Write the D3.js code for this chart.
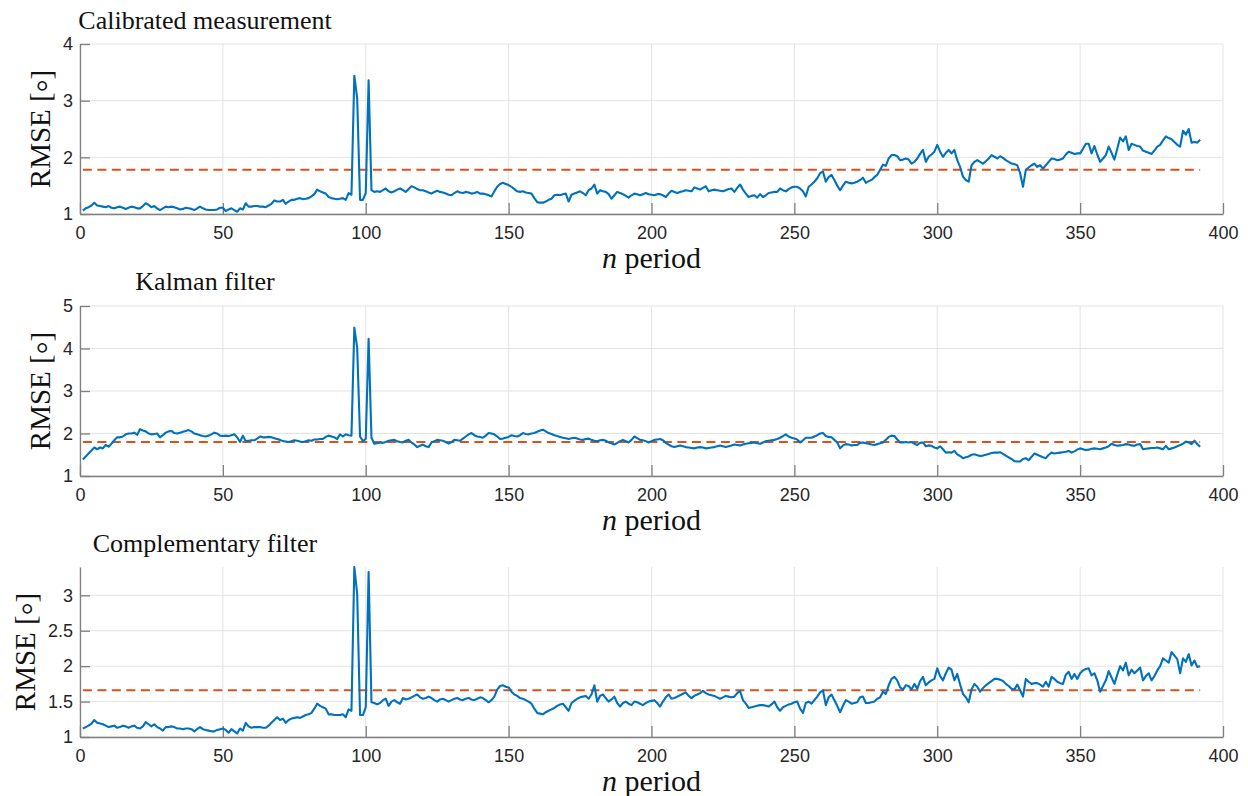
<!DOCTYPE html>
<html>
<head>
<meta charset="utf-8">
<script src="https://cdnjs.cloudflare.com/ajax/libs/d3/7.8.5/d3.min.js"></script>
<style>
  body { margin: 0; background: #fff; }
  .tick text { font-family: "Liberation Sans", Arial, Helvetica, sans-serif; font-size: 18px; fill: #262626; }
</style>
</head>
<body>
<svg class="chart"></svg>
<script>
// n = 1 .. 392
var nPeriod = d3.range(1, 393);

var calibrated = [
  1.06,1.10,1.12,1.15,1.20,1.15,1.14,1.13,1.12,1.14,
  1.11,1.10,1.12,1.13,1.11,1.09,1.11,1.13,1.12,1.10,
  1.10,1.14,1.19,1.16,1.12,1.14,1.10,1.07,1.10,1.13,
  1.12,1.13,1.12,1.10,1.08,1.09,1.11,1.10,1.09,1.07,
  1.10,1.13,1.10,1.08,1.07,1.07,1.07,1.08,1.11,1.11,
  1.05,1.08,1.10,1.07,1.04,1.10,1.08,1.19,1.13,1.13,
  1.14,1.14,1.13,1.13,1.12,1.15,1.18,1.24,1.22,1.22,
  1.25,1.18,1.22,1.25,1.25,1.27,1.28,1.26,1.27,1.28,
  1.31,1.35,1.43,1.40,1.38,1.36,1.30,1.28,1.27,1.26,
  1.27,1.28,1.25,1.37,1.34,3.44,3.04,1.25,1.25,1.37,
  3.36,1.42,1.39,1.40,1.39,1.42,1.45,1.40,1.38,1.40,
  1.43,1.45,1.42,1.39,1.44,1.49,1.47,1.44,1.42,1.42,
  1.40,1.38,1.36,1.39,1.41,1.39,1.38,1.36,1.34,1.33,
  1.37,1.40,1.38,1.37,1.39,1.38,1.36,1.37,1.39,1.36,
  1.36,1.35,1.33,1.31,1.40,1.48,1.53,1.55,1.53,1.51,
  1.48,1.44,1.40,1.39,1.40,1.38,1.37,1.36,1.28,1.21,
  1.20,1.20,1.22,1.25,1.27,1.33,1.34,1.33,1.35,1.36,
  1.22,1.34,1.36,1.38,1.40,1.37,1.33,1.42,1.45,1.52,
  1.36,1.42,1.40,1.39,1.35,1.27,1.33,1.39,1.37,1.35,
  1.32,1.29,1.33,1.36,1.35,1.33,1.35,1.37,1.35,1.34,
  1.33,1.35,1.35,1.33,1.30,1.36,1.41,1.39,1.37,1.39,
  1.40,1.42,1.41,1.40,1.47,1.45,1.43,1.46,1.49,1.40,
  1.42,1.43,1.42,1.41,1.40,1.42,1.44,1.45,1.39,1.46,
  1.52,1.43,1.36,1.30,1.32,1.33,1.29,1.35,1.30,1.33,
  1.37,1.38,1.39,1.39,1.45,1.42,1.40,1.44,1.47,1.48,
  1.48,1.45,1.40,1.31,1.48,1.52,1.57,1.63,1.72,1.75,
  1.57,1.65,1.69,1.60,1.50,1.42,1.50,1.57,1.55,1.54,
  1.55,1.57,1.60,1.64,1.55,1.58,1.60,1.65,1.69,1.78,
  1.87,1.85,1.98,2.04,2.04,2.02,1.95,1.96,1.98,1.96,
  1.89,1.92,1.98,2.06,2.13,1.92,2.01,2.05,2.10,2.22,
  2.10,2.01,2.08,2.13,2.07,2.13,1.95,1.83,1.66,1.60,
  1.57,1.86,1.92,1.95,1.92,1.89,1.93,1.98,2.04,2.01,
  1.98,2.02,1.99,1.95,1.92,1.89,1.88,1.86,1.72,1.48,
  1.78,1.82,1.86,1.89,1.83,1.86,1.80,1.86,1.92,1.98,
  1.97,1.95,1.96,1.98,2.05,2.10,2.08,2.06,2.07,2.07,
  2.15,2.24,2.24,2.07,2.20,2.05,1.92,1.98,2.04,2.19,
  2.08,1.96,2.15,2.35,2.28,2.37,2.13,2.24,2.22,2.20,
  2.19,2.12,2.10,2.08,2.06,2.12,2.19,2.22,2.30,2.37,
  2.34,2.32,2.27,2.22,2.19,2.47,2.40,2.50,2.26,2.27,
  2.26,2.31
];

var kalman = [
  1.39,1.46,1.53,1.60,1.67,1.63,1.67,1.65,1.73,1.69,
  1.76,1.84,1.91,1.91,1.93,1.98,2.00,2.00,2.02,1.97,
  2.10,2.07,2.05,2.00,1.98,1.99,2.00,1.91,1.96,2.02,
  2.05,2.06,2.01,2.00,2.02,2.04,2.06,2.08,2.05,2.00,
  1.98,1.96,1.94,1.93,1.95,1.98,2.02,2.00,1.95,1.94,
  1.95,1.94,1.96,1.98,1.91,1.80,1.95,1.82,1.83,1.84,
  1.84,1.88,1.93,1.91,1.91,1.92,1.91,1.89,1.87,1.85,
  1.82,1.81,1.80,1.82,1.84,1.83,1.81,1.80,1.82,1.84,
  1.83,1.86,1.86,1.87,1.87,1.92,1.95,1.93,1.91,1.87,
  1.98,1.93,1.98,1.96,1.95,4.49,4.02,1.93,1.82,1.87,
  4.23,1.90,1.76,1.77,1.79,1.78,1.80,1.83,1.84,1.85,
  1.82,1.80,1.79,1.83,1.85,1.79,1.74,1.68,1.71,1.74,
  1.70,1.68,1.79,1.82,1.85,1.84,1.83,1.80,1.76,1.80,
  1.85,1.84,1.83,1.88,1.93,1.98,2.01,1.96,1.93,1.92,
  1.90,1.95,2.01,2.00,1.98,1.93,1.87,1.88,1.90,1.92,
  1.96,1.94,1.93,1.96,2.01,1.99,1.98,2.00,2.01,2.04,
  2.07,2.09,2.05,2.01,1.99,1.96,1.94,1.92,1.90,1.89,
  1.87,1.89,1.90,1.88,1.86,1.85,1.87,1.88,1.85,1.83,
  1.82,1.84,1.85,1.83,1.79,1.77,1.74,1.78,1.82,1.85,
  1.82,1.79,1.85,1.93,1.89,1.85,1.84,1.82,1.79,1.82,
  1.85,1.86,1.87,1.84,1.78,1.74,1.70,1.68,1.70,1.72,
  1.70,1.68,1.67,1.66,1.65,1.67,1.68,1.67,1.65,1.66,
  1.67,1.68,1.70,1.72,1.70,1.68,1.70,1.72,1.74,1.73,
  1.72,1.74,1.76,1.77,1.78,1.79,1.77,1.76,1.79,1.82,
  1.83,1.84,1.85,1.87,1.90,1.94,1.98,1.93,1.90,1.88,
  1.86,1.79,1.84,1.90,1.90,1.90,1.93,1.96,2.00,2.01,
  1.94,1.92,1.91,1.85,1.79,1.65,1.72,1.75,1.74,1.72,
  1.73,1.73,1.78,1.79,1.77,1.76,1.74,1.73,1.75,1.77,
  1.79,1.85,1.92,1.95,1.94,1.86,1.79,1.79,1.80,1.79,
  1.80,1.76,1.73,1.78,1.79,1.70,1.72,1.71,1.67,1.65,
  1.70,1.63,1.55,1.56,1.55,1.59,1.51,1.47,1.42,1.44,
  1.46,1.50,1.51,1.49,1.47,1.48,1.50,1.52,1.54,1.55,
  1.55,1.56,1.52,1.48,1.44,1.40,1.35,1.34,1.34,1.40,
  1.42,1.37,1.45,1.53,1.50,1.47,1.44,1.42,1.50,1.55,
  1.53,1.54,1.55,1.56,1.57,1.59,1.55,1.58,1.62,1.65,
  1.63,1.61,1.62,1.64,1.65,1.64,1.63,1.65,1.67,1.70,
  1.76,1.73,1.71,1.72,1.73,1.75,1.74,1.72,1.71,1.74,
  1.75,1.63,1.64,1.65,1.66,1.66,1.67,1.65,1.63,1.71,
  1.63,1.65,1.67,1.70,1.73,1.76,1.81,1.79,1.75,1.83,
  1.75,1.69
];

var complementary = [
  1.12,1.14,1.16,1.19,1.24,1.20,1.19,1.18,1.16,1.14,
  1.15,1.16,1.13,1.14,1.16,1.15,1.13,1.15,1.16,1.13,
  1.12,1.15,1.21,1.18,1.15,1.18,1.14,1.12,1.09,1.14,
  1.14,1.15,1.14,1.12,1.12,1.11,1.12,1.12,1.11,1.08,
  1.11,1.14,1.11,1.10,1.09,1.08,1.08,1.10,1.11,1.12,
  1.10,1.06,1.11,1.08,1.05,1.12,1.09,1.20,1.15,1.13,
  1.14,1.14,1.14,1.13,1.13,1.16,1.20,1.24,1.28,1.24,
  1.26,1.20,1.24,1.26,1.27,1.28,1.27,1.29,1.31,1.32,
  1.34,1.40,1.47,1.44,1.42,1.40,1.32,1.32,1.31,1.31,
  1.31,1.32,1.28,1.39,1.37,3.40,3.02,1.31,1.31,1.42,
  3.33,1.49,1.48,1.46,1.48,1.52,1.54,1.44,1.50,1.52,
  1.49,1.47,1.55,1.53,1.54,1.56,1.58,1.60,1.56,1.54,
  1.55,1.57,1.55,1.52,1.50,1.53,1.54,1.52,1.50,1.52,
  1.54,1.55,1.53,1.52,1.54,1.55,1.53,1.52,1.54,1.56,
  1.55,1.52,1.49,1.52,1.57,1.67,1.72,1.73,1.71,1.70,
  1.64,1.60,1.58,1.55,1.54,1.52,1.50,1.47,1.40,1.34,
  1.33,1.32,1.35,1.37,1.39,1.41,1.44,1.46,1.47,1.42,
  1.37,1.48,1.51,1.54,1.56,1.57,1.58,1.54,1.60,1.73,
  1.50,1.58,1.60,1.55,1.50,1.53,1.57,1.48,1.43,1.48,
  1.50,1.47,1.45,1.50,1.49,1.47,1.45,1.48,1.50,1.51,
  1.52,1.48,1.43,1.50,1.56,1.60,1.54,1.55,1.57,1.59,
  1.61,1.63,1.58,1.55,1.58,1.60,1.62,1.65,1.62,1.60,
  1.59,1.58,1.56,1.54,1.56,1.58,1.57,1.56,1.57,1.62,
  1.65,1.52,1.47,1.41,1.42,1.43,1.44,1.45,1.45,1.44,
  1.43,1.46,1.50,1.42,1.37,1.42,1.44,1.46,1.47,1.49,
  1.50,1.40,1.34,1.48,1.50,1.47,1.52,1.57,1.63,1.66,
  1.45,1.56,1.60,1.52,1.44,1.35,1.44,1.52,1.50,1.47,
  1.48,1.49,1.56,1.57,1.48,1.48,1.49,1.50,1.54,1.56,
  1.64,1.61,1.73,1.82,1.85,1.80,1.70,1.67,1.73,1.72,
  1.67,1.75,1.68,1.79,1.85,1.73,1.77,1.80,1.82,1.97,
  1.86,1.80,1.90,1.98,1.95,1.80,1.89,1.74,1.61,1.56,
  1.49,1.67,1.75,1.71,1.64,1.69,1.73,1.76,1.79,1.82,
  1.82,1.81,1.79,1.75,1.72,1.68,1.67,1.74,1.66,1.57,
  1.82,1.78,1.75,1.76,1.76,1.74,1.71,1.78,1.71,1.85,
  1.82,1.78,1.76,1.75,1.88,1.92,1.82,1.89,1.82,1.90,
  1.94,1.96,1.97,1.87,1.90,1.80,1.64,1.72,1.80,1.93,
  1.84,1.75,1.88,2.00,1.94,2.05,1.87,1.95,1.90,1.94,
  1.98,1.80,1.86,1.90,1.80,1.86,1.94,2.00,2.11,2.08,
  2.05,2.20,2.15,2.10,1.90,2.11,2.06,2.17,2.01,2.08,
  1.99,2.00
];

// dashed reference level per panel
var meanRMSE = [1.78, 1.80, 1.66];
var titles = ["Calibrated measurement", "Kalman filter", "Complementary filter"];
var series = [calibrated, kalman, complementary];
var yDomains = [[1, 4], [1, 5], [1, 3.4]];
var yTicks = [[1, 2, 3, 4], [1, 2, 3, 4, 5], [1, 1.5, 2, 2.5, 3]];
var xTicks = [0, 50, 100, 150, 200, 250, 300, 350, 400];

var width = 1248, height = 796;
var left = 80, plotW = 1143, plotH = 170;
var tops = [44, 306, 567];
var titleY = [29, 290, 552];
var ylabX = [50, 50, 35];

var svg = d3.select(".chart")
  .attr("width", width)
  .attr("height", height);

var x = d3.scaleLinear().domain([0, 400]).range([0, plotW]);

series.forEach(function(vals, p) {
  var y = d3.scaleLinear().domain(yDomains[p]).range([plotH, 0]);
  var g = svg.append("g").attr("transform", "translate(" + left + "," + tops[p] + ")");

  // grid
  g.selectAll(".gx").data(xTicks).enter().append("line")
    .attr("x1", function(d){ return x(d); }).attr("x2", function(d){ return x(d); })
    .attr("y1", 0).attr("y2", plotH)
    .attr("stroke", "#e3e3e3").attr("stroke-width", 1);
  g.selectAll(".gy").data(yTicks[p]).enter().append("line")
    .attr("x1", 0).attr("x2", plotW)
    .attr("y1", function(d){ return y(d); }).attr("y2", function(d){ return y(d); })
    .attr("stroke", "#e3e3e3").attr("stroke-width", 1);

  // axes
  var xa = g.append("g").attr("transform", "translate(0," + plotH + ")")
    .call(d3.axisBottom(x).tickValues(xTicks).tickSize(-11).tickSizeOuter(0).tickPadding(12)
      .tickFormat(function(d){ return String(d); }));
  var ya = g.append("g")
    .call(d3.axisLeft(y).tickValues(yTicks[p]).tickSize(-10).tickSizeOuter(0).tickPadding(7)
      .tickFormat(function(d){ return String(d); }));
  [xa, ya].forEach(function(a){
    a.select(".domain").attr("stroke", "#7f7f7f").attr("stroke-width", 1.3);
    a.selectAll(".tick line").attr("stroke", "#7f7f7f").attr("stroke-width", 1.3);
  });

  // mean line
  g.append("line")
    .attr("x1", x(nPeriod[0])).attr("x2", x(nPeriod[nPeriod.length - 1]))
    .attr("y1", y(meanRMSE[p])).attr("y2", y(meanRMSE[p]))
    .attr("stroke", "#D95319").attr("stroke-width", 2)
    .attr("stroke-dasharray", "9,5.5");

  // rmse line
  var line = d3.line()
    .x(function(d, i){ return x(nPeriod[i]); })
    .y(function(d){ return y(d); });
  g.append("path").datum(vals)
    .attr("d", line)
    .attr("fill", "none")
    .attr("stroke", "#0072BD")
    .attr("stroke-width", 2.1)
    .attr("stroke-linejoin", "round");

  // title
  svg.append("text")
    .attr("x", 205).attr("y", titleY[p])
    .attr("text-anchor", "middle")
    .attr("font-family", "'Liberation Serif', 'Times New Roman', serif")
    .attr("font-size", "26px").attr("fill", "#111")
    .text(titles[p]);

  // x label
  var xl = svg.append("text")
    .attr("x", left + plotW / 2).attr("y", tops[p] + plotH + 54)
    .attr("text-anchor", "middle")
    .attr("font-family", "'Liberation Serif', 'Times New Roman', serif")
    .attr("font-size", "30px").attr("fill", "#111");
  xl.append("tspan").attr("font-style", "italic").text("n");
  xl.append("tspan").text(" period");

  // y label
  var yl = svg.append("text")
    .attr("transform", "translate(" + ylabX[p] + "," + (tops[p] + plotH / 2) + ") rotate(-90)")
    .attr("text-anchor", "middle")
    .attr("font-family", "'Liberation Serif', 'Times New Roman', serif")
    .attr("font-size", "29px").attr("fill", "#111");
  yl.append("tspan").text("RMSE [");
  yl.append("tspan").attr("dy", "0.28em").attr("font-size", "32px").text("\u00B0");
  yl.append("tspan").attr("dy", "-0.28em").text("]");
});
</script>
</body>
</html>
